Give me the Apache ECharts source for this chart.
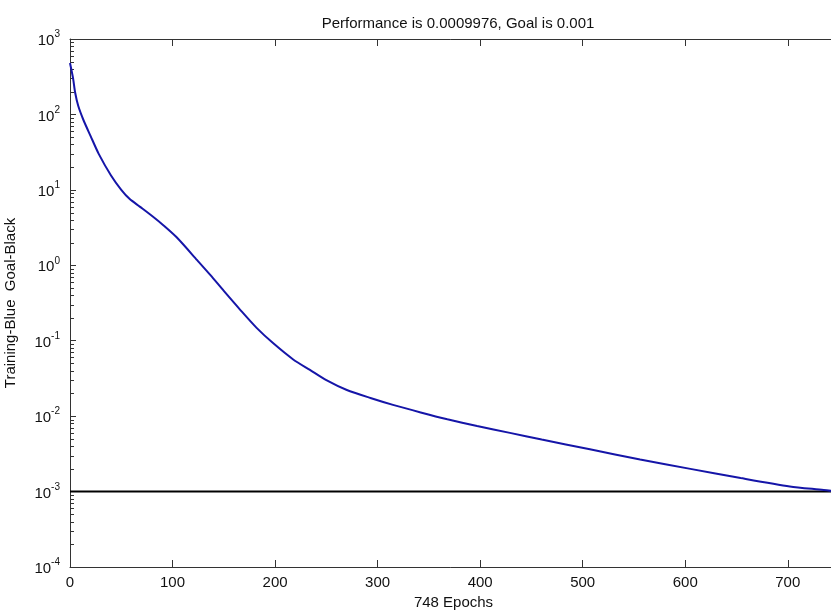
<!DOCTYPE html>
<html>
<head>
<meta charset="utf-8">
<script src="https://cdn.jsdelivr.net/npm/echarts@6/dist/echarts.min.js"></script>
<style>
html,body{margin:0;padding:0;background:#fff;}
#chart{width:831px;height:610px;}
</style>
</head>
<body>
<div id="chart"></div>
<script>
// ---- data ----
var epochs = [0, 3, 5, 8, 13, 20, 28, 40, 50, 58, 68, 81, 91, 104, 124, 137, 150, 166, 182, 198, 218, 234, 250, 270, 293, 315, 342, 368, 397, 429, 460, 507, 556, 605, 654, 702, 735, 748];
var performance = [480, 300, 195, 130, 85, 52, 30, 15.5, 10, 7.6, 6.0, 4.4, 3.4, 2.35, 1.17, 0.74, 0.457, 0.257, 0.148, 0.093, 0.056, 0.041, 0.030, 0.0222, 0.0174, 0.0141, 0.0112, 0.0091, 0.0074, 0.0060, 0.0049, 0.00363, 0.00266, 0.0020, 0.00151, 0.00117, 0.00105, 0.0009976];
var goalValue = 0.001;
var totalEpochs = 748;
var xTicks = [0, 100, 200, 300, 400, 500, 600, 700];
var yExponents = [-4, -3, -2, -1, 0, 1, 2, 3];
var titleText = 'Performance is 0.0009976, Goal is 0.001';
var xName = '748 Epochs';
var yName = 'Training-Blue  Goal-Black';

// ---- build ----
var trainData = epochs.map(function (e, i) { return [e, performance[i]]; });
var goalData = [[0, goalValue], [totalEpochs, goalValue]];
var minorTickValues = [];
for (var i = 0; i < yExponents.length - 1; i++) {
  for (var k = 2; k <= 9; k++) minorTickValues.push([0, k * Math.pow(10, yExponents[i])]);
}

var FONT = '"Liberation Sans", Arial, sans-serif';
var AX = '#333';

var chart = echarts.init(document.getElementById('chart'));
chart.setOption({
  animation: false,
  backgroundColor: '#fff',
  textStyle: { fontFamily: FONT },
  title: {
    text: titleText,
    left: 453, top: 11, textAlign: 'center',
    textStyle: { fontSize: 15, fontWeight: 'normal', color: '#111', fontFamily: FONT }
  },
  grid: { left: 70, top: 39, width: 767, height: 528, containLabel: false, outerBoundsMode: 'none' },
  xAxis: [{
    type: 'value', min: 0, max: totalEpochs, interval: 100,
    name: xName, nameLocation: 'middle', nameGap: 28,
    nameTextStyle: { fontSize: 15, color: '#111', fontFamily: FONT },
    axisLine: { show: true, onZero: false, lineStyle: { color: AX, width: 1 } },
    axisTick: { show: true, inside: true, length: 7, lineStyle: { color: AX } },
    axisLabel: { fontSize: 15, color: '#111', margin: 8, showMaxLabel: false, fontFamily: FONT,
      formatter: function (v) { return xTicks.indexOf(v) >= 0 ? String(v) : ''; } },
    splitLine: { show: false }
  }, {
    type: 'value', min: 0, max: totalEpochs, interval: 100, position: 'top',
    axisLine: { show: true, onZero: false, lineStyle: { color: AX, width: 1 } },
    axisTick: { show: true, inside: true, length: 7, lineStyle: { color: AX } },
    axisLabel: { show: false }, splitLine: { show: false }
  }],
  yAxis: [{
    type: 'log', logBase: 10, min: Math.pow(10, yExponents[0]), max: Math.pow(10, yExponents[yExponents.length - 1]),
    name: yName, nameLocation: 'middle', nameGap: 52, nameRotate: 90,
    nameTextStyle: { fontSize: 15, color: '#111', fontFamily: FONT },
    axisLine: { show: true, onZero: false, lineStyle: { color: AX, width: 1 } },
    axisTick: { show: true, inside: true, length: 6, lineStyle: { color: AX } },
    axisLabel: {
      margin: 10, color: '#111',
      formatter: function (v) {
        var e = Math.round(Math.log10(v));
        return '{b|10}{s|' + e + '}';
      },
      rich: {
        b: { fontSize: 15, color: '#111', fontFamily: FONT, verticalAlign: 'bottom' },
        s: { fontSize: 10, color: '#111', fontFamily: FONT, verticalAlign: 'bottom', padding: [0, 0, 9, 0] }
      }
    },
    splitLine: { show: false }
  }, {
    type: 'log', logBase: 10, min: Math.pow(10, yExponents[0]), max: Math.pow(10, yExponents[yExponents.length - 1]),
    position: 'right',
    axisLine: { show: true, onZero: false, lineStyle: { color: AX, width: 1 } },
    axisTick: { show: true, inside: true, length: 6, lineStyle: { color: AX } },
    axisLabel: { show: false }, splitLine: { show: false }
  }],
  series: [{
    type: 'custom',
    silent: true,
    clip: false,
    xAxisIndex: 0, yAxisIndex: 0,
    data: minorTickValues,
    renderItem: function (params, api) {
      var p = api.coord([0, api.value(1)]);
      var cs = params.coordSys;
      var y = Math.round(p[1]) + 0.5;
      return {
        type: 'group',
        children: [
          { type: 'line', shape: { x1: cs.x, y1: y, x2: cs.x + 4, y2: y }, style: { stroke: AX, lineWidth: 1 } },
          { type: 'line', shape: { x1: cs.x + cs.width - 4, y1: y, x2: cs.x + cs.width, y2: y }, style: { stroke: AX, lineWidth: 1 } }
        ]
      };
    }
  }, {
    name: 'Goal', type: 'line', data: goalData, showSymbol: false,
    lineStyle: { color: '#000', width: 2 }, silent: true
  }, {
    name: 'Training', type: 'line', data: trainData, showSymbol: false, smooth: 0.25,
    lineStyle: { color: '#1515a8', width: 2 }, silent: true
  }]
});
</script>
</body>
</html>
